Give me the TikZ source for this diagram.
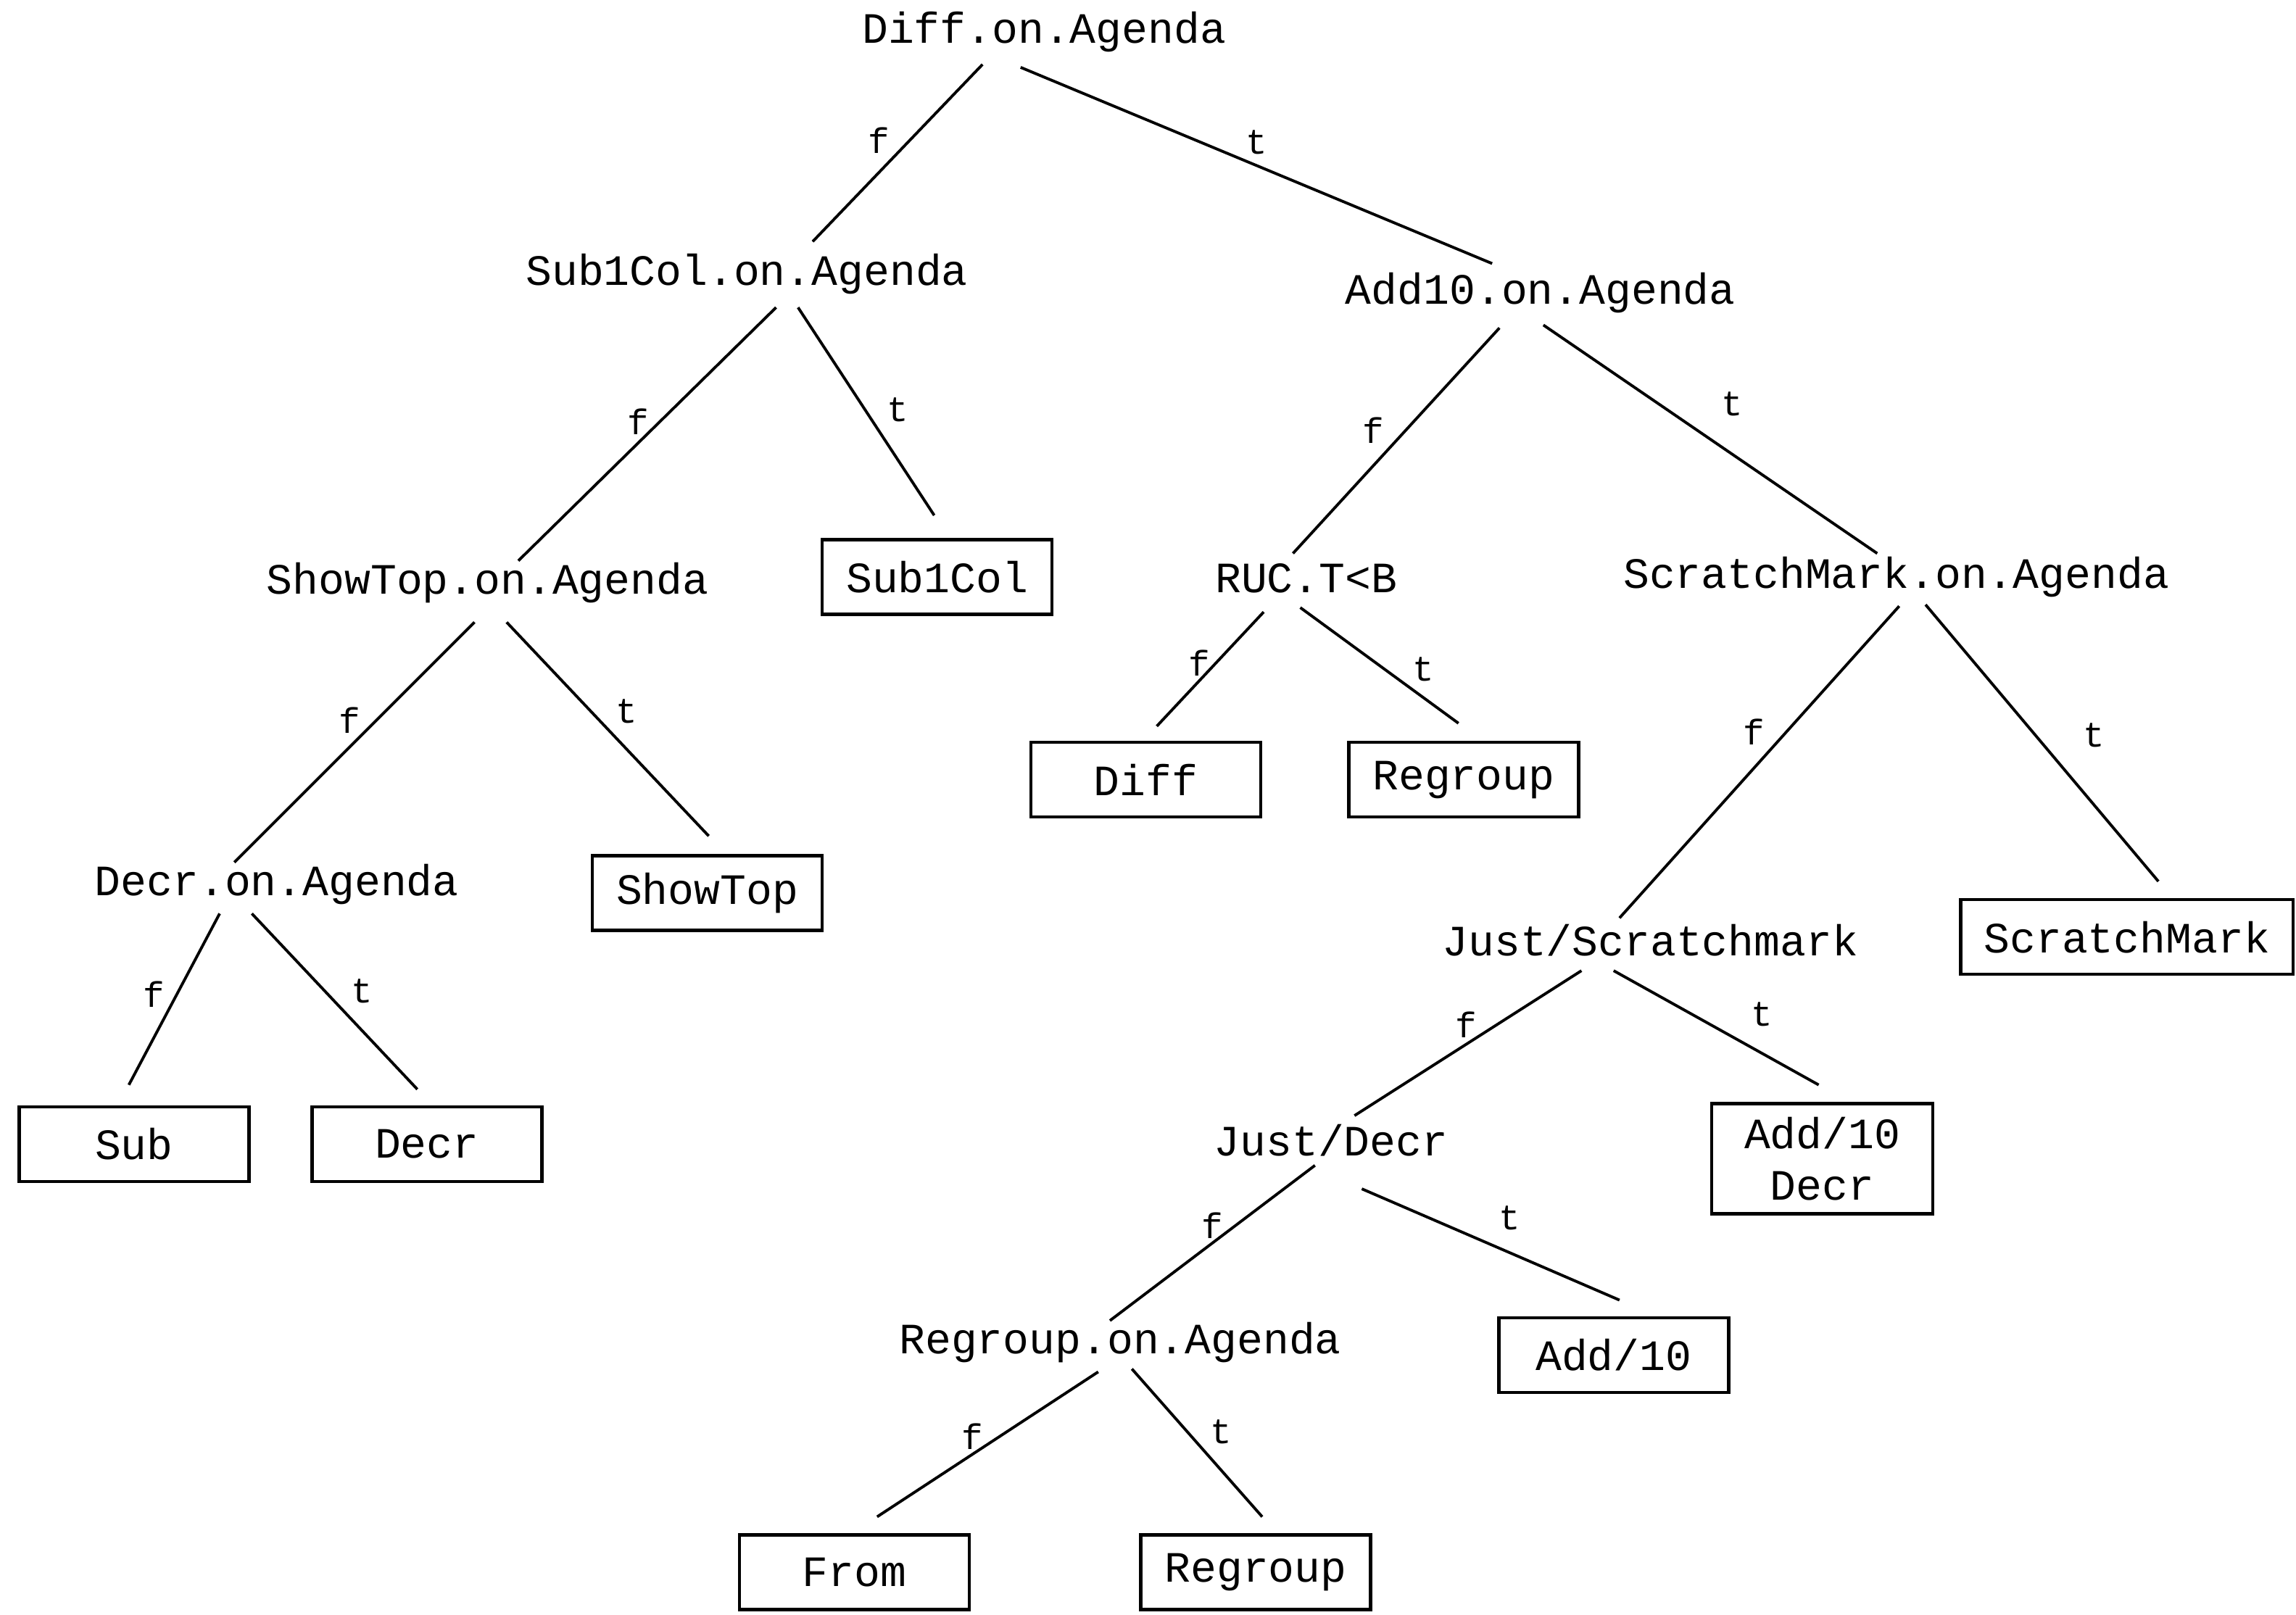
\documentclass[tikz,border=0pt]{standalone}
\usepackage{fontspec}
\setmonofont{Liberation Mono}
\begin{document}
\begin{tikzpicture}[x=0.0202cm,y=-0.0202cm,
  every node/.style={font=\fontsize{17}{20}\selectfont\ttfamily},
  cond/.style={inner sep=0pt},
  leaf/.style={draw,line width=1.3pt,minimum width=3.17cm,minimum height=1.03cm,inner sep=0pt,align=center},
  br/.style={inner sep=0pt,font=\fontsize{14}{16}\selectfont\ttfamily},
  edge/.style={line width=1.1pt}]
\useasboundingbox (0,0) rectangle (1568,1103);
% decision nodes
\node[cond] (root) at (713,22) {Diff.on.Agenda};
\node[cond] (sca) at (510,187) {Sub1Col.on.Agenda};
\node[cond] (add) at (1052,200) {Add10.on.Agenda};
\node[cond] (sta) at (333,398) {ShowTop.on.Agenda};
\node[cond] (ruc) at (892,395) {RUC.T<B};
\node[cond] (sma) at (1295,394) {ScratchMark.on.Agenda};
\node[cond] (dca) at (189,604) {Decr.on.Agenda};
\node[cond] (jsm) at (1127,642) {Just/Scratchmark};
\node[cond] (jdc) at (909,779) {Just/Decr};
\node[cond] (rga) at (765,917) {Regroup.on.Agenda};
% leaves
\node[leaf] (scb) at (640,394) {Sub1Col};
\node[leaf] (stb) at (483,610) {ShowTop};
\node[leaf] (dfb) at (782.5,532.5) {Diff};
\node[leaf] (rgu) at (999.5,532.5) {Regroup};
\node[leaf,minimum width=4.59cm] (smb) at (1452.5,640) {ScratchMark};
\node[leaf] (sbb) at (91.5,781.5) {Sub};
\node[leaf] (dcb) at (291.5,781.5) {Decr};
\node[leaf,minimum width=3.05cm,minimum height=1.52cm] (adb) at (1244.5,791.5) {Add/10\\Decr};
\node[leaf] (a10) at (1102,925.5) {Add/10};
\node[leaf] (frb) at (583.5,1074) {From};
\node[leaf] (rgl) at (857.5,1074) {Regroup};
% edges
\draw[edge] ([shift={(-42,22)}]root.center) -- ([shift={(45,-22)}]sca.center);
\draw[edge] ([shift={(-16,24)}]root.center) -- ([shift={(-33,-20)}]add.center);
\draw[edge] ([shift={(20,23)}]sca.center) -- ([shift={(21,-15)}]sta.center);
\draw[edge] ([shift={(35,23)}]sca.center) -- ([shift={(-2,-42)}]scb.center);
\draw[edge] ([shift={(-28,24)}]add.center) -- ([shift={(-9,-17)}]ruc.center);
\draw[edge] ([shift={(2,22)}]add.center) -- ([shift={(-13,-16)}]sma.center);
\draw[edge] ([shift={(-9,27)}]sta.center) -- ([shift={(-29,-15)}]dca.center);
\draw[edge] ([shift={(13,27)}]sta.center) -- ([shift={(1,-39)}]stb.center);
\draw[edge] ([shift={(-29,23)}]ruc.center) -- ([shift={(7.5,-36.5)}]dfb.center);
\draw[edge] ([shift={(-4,20)}]ruc.center) -- ([shift={(-3.5,-38.5)}]rgu.center);
\draw[edge] ([shift={(2,20)}]sma.center) -- ([shift={(-21,-15)}]jsm.center);
\draw[edge] ([shift={(20,19)}]sma.center) -- ([shift={(21.5,-38)}]smb.center);
\draw[edge] ([shift={(-39,20)}]dca.center) -- ([shift={(-3.5,-40.5)}]sbb.center);
\draw[edge] ([shift={(-17,20)}]dca.center) -- ([shift={(-6.5,-37.5)}]dcb.center);
\draw[edge] ([shift={(-47,21)}]jsm.center) -- ([shift={(16,-17)}]jdc.center);
\draw[edge] ([shift={(-25,21)}]jsm.center) -- ([shift={(-2.5,-50.5)}]adb.center);
\draw[edge] ([shift={(-11,17)}]jdc.center) -- ([shift={(-7,-15)}]rga.center);
\draw[edge] ([shift={(21,33)}]jdc.center) -- ([shift={(4,-37.5)}]a10.center);
\draw[edge] ([shift={(-15,20)}]rga.center) -- ([shift={(15.5,-38)}]frb.center);
\draw[edge] ([shift={(8,18)}]rga.center) -- ([shift={(4.5,-38)}]rgl.center);
% branch labels
\node[br] (l1) at (600,96) {f};
\node[br] (l2) at (858,97) {t};
\node[br] (l3) at (436,288) {f};
\node[br] (l4) at (613,280) {t};
\node[br] (l5) at (938,294) {f};
\node[br] (l6) at (1183,276) {t};
\node[br] (l7) at (239,492) {f};
\node[br] (l8) at (428,486) {t};
\node[br] (l9) at (819,453) {f};
\node[br] (l10) at (972,457) {t};
\node[br] (l11) at (1198,500) {f};
\node[br] (l12) at (1430,502) {t};
\node[br] (l13) at (105,679) {f};
\node[br] (l14) at (247,677) {t};
\node[br] (l15) at (1001,700) {f};
\node[br] (l16) at (1203,693) {t};
\node[br] (l17) at (828,837) {f};
\node[br] (l18) at (1031,832) {t};
\node[br] (l19) at (664,981) {f};
\node[br] (l20) at (834,978) {t};
\end{tikzpicture}
\end{document}
